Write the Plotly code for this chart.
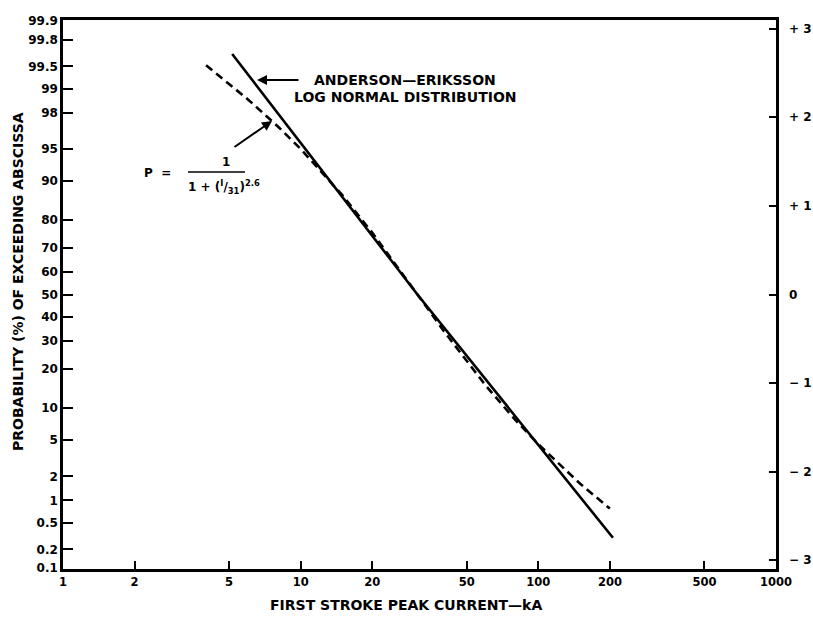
import plotly.graph_objects as go
from statistics import NormalDist

# ---------------- data ----------------
current_solid = [5.15, 31, 206]      # kA, Anderson-Eriksson log normal
prob_solid = [99.67, 50.0, 0.30]     # % exceeding

current_dashed = [4, 5, 6, 8, 10, 15, 20, 31, 40, 60, 80, 100, 150, 200]
prob_dashed = [99.52, 99.14, 98.62, 97.13, 94.99, 86.84, 75.76, 50.0, 34.01,
               15.23, 7.84, 4.54, 1.63, 0.78]

x_ticks = [1, 2, 5, 10, 20, 50, 100, 200, 500, 1000]
x_tick_labels = ["1", "2", "5", "10", "20", "50", "100", "200", "500", "1000"]
prob_ticks = [99.9, 99.8, 99.5, 99, 98, 95, 90, 80, 70, 60, 50, 40, 30, 20, 10,
              5, 2, 1, 0.5, 0.2, 0.1]
prob_tick_labels = ["99.9", "99.8", "99.5", "99", "98", "95", "90", "80", "70",
                    "60", "50", "40", "30", "20", "10", "5", "2", "1", "0.5",
                    "0.2", "0.1"]
sigma_ticks = [3, 2, 1, 0, -1, -2, -3]
sigma_labels = ["+ 3", "+ 2", "+ 1", "0", "− 1", "− 2", "− 3"]

# ---------------- probability-scale transform ----------------
nd = NormalDist()
def z(p):
    return nd.inv_cdf(p / 100.0)

FONT = "DejaVu Sans"
W, H = 813, 617
L, R, T, B = 63, 776, 20, 569

def px(xp):
    return (xp - L) / (R - L)

def py(yp):
    return (B - yp) / (B - T)

def bold(size):
    return dict(family=FONT, size=size, weight="bold", color="black")

fig = go.Figure()
fig.add_trace(go.Scatter(
    x=current_solid, y=[z(p) for p in prob_solid], mode="lines",
    line=dict(color="black", width=2.6), showlegend=False, hoverinfo="skip"))
fig.add_trace(go.Scatter(
    x=current_dashed, y=[z(p) for p in prob_dashed], mode="lines",
    line=dict(color="black", width=2.6, dash="8px,5px"), showlegend=False,
    hoverinfo="skip"))
# invisible trace to activate the right axis
fig.add_trace(go.Scatter(x=[1], y=[0], yaxis="y2", mode="markers",
                         marker=dict(opacity=0), showlegend=False,
                         hoverinfo="skip"))

yr = [-3.1, 3.1]
fig.update_layout(
    width=W, height=H,
    margin=dict(l=L, r=W - R, t=T, b=H - B),
    paper_bgcolor="white", plot_bgcolor="white",
    font=bold(11),
    xaxis=dict(type="log", range=[0, 3], tickvals=x_ticks, ticktext=x_tick_labels,
               ticks="inside", ticklen=8, tickwidth=2, tickcolor="black",
               showline=True, linewidth=2.5, linecolor="black", mirror=True,
               showgrid=False, zeroline=False, tickfont=bold(11.5)),
    yaxis=dict(range=yr, tickvals=[z(p) for p in prob_ticks], ticktext=prob_tick_labels,
               ticks="inside", ticklen=10, tickwidth=2, tickcolor="black",
               showline=True, linewidth=2.5, linecolor="black",
               showgrid=False, zeroline=False, tickfont=bold(12)),
    yaxis2=dict(range=yr, overlaying="y", side="right", tickvals=sigma_ticks,
                ticks="inside", ticklen=7, tickwidth=2, tickcolor="black",
                showticklabels=False, showline=True, linewidth=2.5,
                linecolor="black", showgrid=False, zeroline=False),
)

def txt(text, x, y, size, xanchor="center", **kw):
    return dict(text=text, x=px(x), y=py(y), xref="paper", yref="paper",
                xanchor=xanchor, yanchor="middle", showarrow=False,
                font=bold(size), **kw)

ann = []
# axis titles
ann.append(txt("PROBABILITY (%) OF EXCEEDING ABSCISSA", 18, 282, 14, textangle=-90))
ann.append(txt("FIRST STROKE PEAK CURRENT—kA", 406, 605, 14))
# sigma labels on the right
for s, lab in zip(sigma_ticks, sigma_labels):
    ann.append(dict(text=lab, x=px(787), y=s, xref="paper", yref="y",
                    xanchor="left", yanchor="middle", showarrow=False,
                    font=bold(12)))
# Anderson-Eriksson label and arrow
ann.append(txt("ANDERSON—ERIKSSON", 405, 80, 14))
ann.append(txt("LOG NORMAL DISTRIBUTION", 405, 97, 14))
ann.append(dict(text="", x=px(257), y=py(80), xref="paper", yref="paper",
                showarrow=True, ax=43, ay=0, arrowhead=2, arrowsize=1,
                arrowwidth=2, arrowcolor="black"))
# formula label and arrow
ann.append(txt("P  =", 157, 173, 12))
ann.append(txt("1", 226, 162, 12))
ann.append(txt("1 + (<sup>I</sup>/<sub>31</sub>)<sup>2.6</sup>", 186, 187, 12,
               xanchor="left"))
ann.append(dict(text="", x=px(272), y=py(121), xref="paper", yref="paper",
                showarrow=True, ax=-39, ay=27, arrowhead=2, arrowsize=1,
                arrowwidth=2, arrowcolor="black"))
fig.update_layout(annotations=ann)

fig.add_shape(type="line", xref="paper", yref="paper",
              x0=px(188), x1=px(245), y0=py(172), y1=py(172),
              line=dict(color="black", width=1.5))

fig.write_html("out.html")
